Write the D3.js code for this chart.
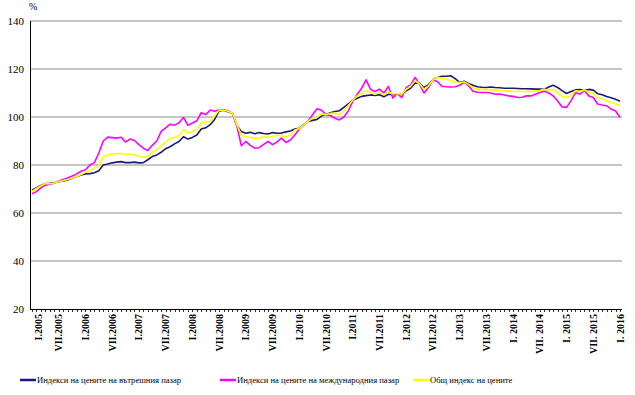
<!DOCTYPE html>
<html>
<head>
<meta charset="utf-8">
<script src="https://cdn.jsdelivr.net/npm/d3@7"></script>
<style>
body { margin: 0; background: #fff; }
</style>
</head>
<body>
<svg width="635" height="395" font-family="'Liberation Serif', 'Times New Roman', Times, serif"></svg>
<script>
// monthly indices, I.2005 .. I.2016
var domestic = [
  69.5, 70.5, 71.5, 72.3, 72.4, 72.6, 73.0, 73.3, 73.8, 74.5, 75.2, 75.8,
  76.3, 76.4, 76.8, 77.6, 80.0, 80.4, 80.9, 81.2, 81.4, 81.0, 81.0, 81.2,
  80.9, 81.0, 82.2, 83.5, 84.2, 85.3, 86.8, 87.6, 88.8, 89.8, 91.8, 90.8,
  91.5, 92.5, 95.0, 95.5, 96.8, 99.0, 102.5, 102.8, 102.2, 101.6, 96.5, 94.0,
  93.2, 93.6, 93.0, 93.5, 93.1, 92.9, 93.5, 93.2, 93.3, 93.8, 94.2, 95.0,
  95.3, 96.8, 98.2, 98.6, 99.0, 100.5, 101.0, 101.8, 102.3, 102.6, 104.0, 105.5,
  107.0, 107.8, 108.6, 108.9, 109.2, 109.0, 109.3, 108.4, 109.5, 109.3, 109.6, 109.4,
  110.9, 112.0, 114.2, 114.0, 112.3, 113.5, 115.5, 116.5, 117.0, 117.0, 117.2, 116.0,
  114.4, 114.9, 114.0, 113.2, 112.6, 112.4, 112.3, 112.5, 112.3, 112.2, 112.0, 112.0,
  112.0, 111.9, 111.8, 111.8, 111.7, 111.6, 111.6, 111.5, 112.5, 113.2, 112.3, 111.0,
  109.8, 110.6, 111.3, 111.4, 111.0, 111.5, 111.2, 109.7, 109.3, 108.5, 108.0, 107.4,
  106.6
];
var international = [
  68.0, 68.9, 70.5, 71.6, 72.0, 72.4, 73.3, 74.0, 74.6, 75.4, 76.3, 77.4,
  78.0, 80.0, 81.0, 85.0, 90.0, 91.6, 91.4, 91.2, 91.6, 89.6, 90.8, 90.2,
  88.5, 87.0, 86.0, 88.2, 90.0, 94.0, 95.5, 97.0, 96.6, 97.6, 99.8, 96.5,
  97.5, 98.4, 101.8, 101.0, 102.9, 102.4, 103.0, 103.0, 102.6, 101.5, 96.0, 88.0,
  89.8, 88.2, 87.0, 87.2, 88.6, 89.8, 88.5, 89.6, 91.2, 89.4, 90.4, 92.5,
  95.0, 96.5, 98.4, 101.0, 103.4, 102.8, 101.0, 100.6, 99.5, 98.8, 100.0, 102.5,
  106.5, 109.5, 112.0, 115.5, 111.5, 110.6, 111.6, 110.0, 112.7, 107.9, 109.8, 108.1,
  112.3, 113.4, 116.5, 113.5, 110.0, 112.3, 115.4, 114.8, 112.8, 112.6, 112.5, 112.6,
  113.2, 114.4, 113.0, 110.7, 110.3, 110.2, 110.2, 110.0, 109.5, 109.6, 109.2, 108.8,
  108.6, 108.1, 108.2, 108.8, 108.8, 109.5, 110.2, 110.7, 110.0, 108.8, 106.7, 104.2,
  104.0, 106.7, 110.2, 109.5, 111.0, 108.8, 108.1, 105.4, 105.0, 104.7, 103.3, 102.5,
  99.8
];
var overall = [
  69.0, 70.2, 71.3, 72.3, 72.2, 72.5, 73.1, 73.5, 74.0, 74.6, 75.2, 76.0,
  77.0, 77.6, 78.8, 79.5, 83.5, 84.2, 84.6, 84.8, 84.9, 84.4, 84.6, 84.2,
  83.6, 83.2, 83.6, 85.3, 86.3, 88.0, 89.6, 91.1, 91.5, 92.3, 94.9, 93.3,
  94.0, 94.8, 97.4, 97.8, 98.0, 100.4, 102.9, 102.8, 102.4, 101.6, 96.7, 92.5,
  91.8, 91.6, 91.1, 91.2, 91.8, 91.5, 92.0, 92.4, 92.2, 91.8, 92.4, 94.6,
  95.2, 96.6, 98.3, 99.5, 100.0, 101.2, 101.0, 101.5, 101.6, 101.0, 102.5, 104.8,
  107.0, 108.8, 110.0, 110.9, 110.2, 109.5, 110.2, 109.4, 110.5, 109.6, 109.8, 109.5,
  111.5, 112.8, 115.1, 113.8, 111.6, 113.0, 115.4, 116.5, 116.2, 115.8, 115.2, 114.6,
  114.4, 114.6, 113.6, 112.2, 111.6, 111.5, 111.4, 111.4, 111.2, 111.0, 110.9, 110.8,
  110.7, 110.6, 110.6, 110.7, 110.6, 110.8, 111.0, 111.6, 111.2, 111.6, 110.0, 108.6,
  108.1, 109.0, 110.9, 110.7, 111.2, 110.4, 110.0, 108.0, 107.5, 106.8, 106.0, 105.5,
  104.7
];
var xLabels = ["I.2005", "VII.2005", "I.2006", "VII.2006", "I.2007", "VII.2007",
  "I.2008", "VII.2008", "I.2009", "VII.2009", "I.2010", "VII.2010",
  "I.2011", "VII.2011", "I.2012", "VII.2012", "I.2013", "VII.2013",
  "I. 2014", "VII. 2014", "I. 2015", "VII. 2015", "I. 2016"];
var yTicks = [20, 40, 60, 80, 100, 120, 140];
var seriesNames = ["Индекси на цените на вътрешния пазар",
  "Индекси на цените на международния пазар",
  "Общ индекс на цените"];
var seriesColors = ["#1c1a78", "#ff00ff", "#ffff00"];

var svg = d3.select("svg");
var x = d3.scaleLinear().domain([0, domestic.length - 1]).range([32, 620]);
var y = d3.scaleLinear().domain([20, 140]).range([309, 21]);

// grid
svg.append("g").selectAll("line").data(yTicks.slice(1)).enter().append("line")
  .attr("x1", 30).attr("x2", 622)
  .attr("y1", function(d){return y(d);}).attr("y2", function(d){return y(d);})
  .attr("stroke", "#8c8c8c").attr("stroke-width", 1);

// y labels
svg.append("g").selectAll("text").data(yTicks).enter().append("text")
  .attr("x", 24).attr("y", function(d){return y(d);}).attr("dy", "0.35em")
  .attr("text-anchor", "end").attr("font-size", "11px").text(function(d){return d;});
svg.append("text").attr("x", 29).attr("y", 10).attr("font-size", "10px").text("%");

// axes lines
svg.append("line").attr("x1", 30.5).attr("x2", 30.5).attr("y1", y(140)).attr("y2", y(20))
  .attr("stroke", "#000");
svg.append("line").attr("x1", 30).attr("x2", 622).attr("y1", y(20) + 0.5).attr("y2", y(20) + 0.5)
  .attr("stroke", "#000");

// month ticks
svg.append("g").selectAll("line").data(d3.range(domestic.length)).enter().append("line")
  .attr("x1", function(d){return Math.round(x(d)) + 0.5;})
  .attr("x2", function(d){return Math.round(x(d)) + 0.5;})
  .attr("y1", y(20)).attr("y2", y(20) + 3)
  .attr("stroke", "#000").attr("stroke-width", 0.8);

// x labels (every 6 months)
svg.append("g").selectAll("text").data(xLabels).enter().append("text")
  .attr("transform", function(d, i){return "translate(" + (x(i * 6) + (i === 0 ? 6 : 0)) + "," + (y(20) + 5) + ") rotate(-90)";})
  .attr("dy", "0.35em").attr("text-anchor", "end")
  .attr("font-size", "10px").attr("font-weight", "bold").text(function(d){return d;});

// lines
var line = d3.line().x(function(d, i){return x(i);}).y(function(d){return y(d);});
[domestic, international, overall].forEach(function(s, k){
  svg.append("path").datum(s).attr("d", line)
    .attr("fill", "none").attr("stroke", seriesColors[k]).attr("stroke-width", 1.6)
    .attr("stroke-linejoin", "round");
});

// legend
var legX = [20, 220, 413];
var leg = svg.append("g").selectAll("g").data(seriesNames).enter().append("g")
  .attr("transform", function(d, i){return "translate(" + legX[i] + ",380)";});
leg.append("line").attr("x1", 0).attr("x2", 16).attr("y1", 0).attr("y2", 0)
  .attr("stroke", function(d, i){return seriesColors[i];}).attr("stroke-width", 2.5);
leg.append("text").attr("x", 17).attr("dy", "0.35em").attr("font-size", "8.6px")
  .text(function(d){return d;});
</script>
</body>
</html>
